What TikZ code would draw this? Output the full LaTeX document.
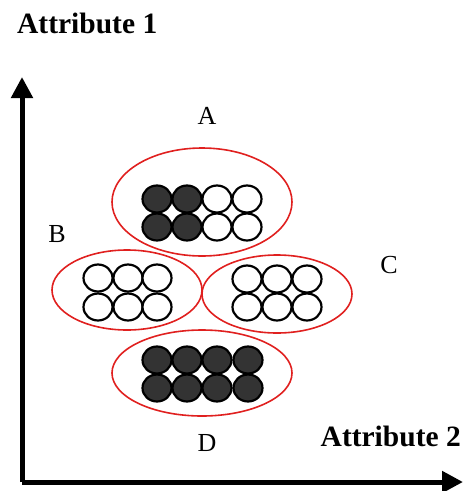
\documentclass[tikz,border=0pt]{standalone}
\usepackage{fontspec}
\setmainfont{Liberation Serif}
\usetikzlibrary{arrows.meta}
\definecolor{dot}{HTML}{333333}
\definecolor{ring}{HTML}{E0201F}
\begin{document}
\begin{tikzpicture}[x=1pt,y=-1pt,
  axis/.style={line width=5pt,-{Triangle[length=21pt,width=21pt]}},
  group/.style={draw=ring,line width=1.6pt,ellipse},
  dotw/.style={draw=black,line width=2.2pt,fill=white},
  dotb/.style={draw=black,line width=2.2pt,fill=dot},
  axlabel/.style={font=\fontsize{29.5}{30}\selectfont\bfseries,inner sep=0pt},
  letter/.style={font=\fontsize{26}{28}\selectfont,inner sep=0pt}]
\useasboundingbox (0,0) rectangle (463,491);
% axes
\coordinate (origin) at (22,482);
\coordinate (ytip) at (22,77);
\coordinate (xtip) at (463,482);
\draw[axis] (origin) -- (ytip);
\draw[axis] (origin) -- (xtip);
% axis labels
\node[axlabel,anchor=base west] (at1) at (17,33) {Attribute 1};
\node[axlabel,anchor=base east] (at2) at (461,446) {Attribute 2};
% cluster letters
\node[letter] (lA) at (207,116) {A};
\node[letter] (lB) at (57,234) {B};
\node[letter] (lC) at (389,265) {C};
\node[letter] (lD) at (207,443) {D};
% ellipses
\draw[draw=ring,line width=1.6pt] (202,202) ellipse [x radius=90,y radius=54];
\draw[draw=ring,line width=1.6pt] (127,290) ellipse [x radius=75,y radius=40];
\draw[draw=ring,line width=1.6pt] (277,294) ellipse [x radius=75,y radius=39];
\draw[draw=ring,line width=1.6pt] (202,373) ellipse [x radius=90,y radius=43];
% A dots
\foreach \y in {199,227}{
  \foreach \x in {157,187}{\draw[dotb] (\x,\y) ellipse [x radius=14.5,y radius=13.5];}
  \foreach \x in {217,247}{\draw[dotw] (\x,\y) ellipse [x radius=14.5,y radius=13.5];}
}
% B dots
\foreach \y in {278,307}{
  \foreach \x in {98,128,157}{\draw[dotw] (\x,\y) ellipse [x radius=14.5,y radius=13.5];}
}
% C dots
\foreach \y in {279,307}{
  \foreach \x in {247,277,307}{\draw[dotw] (\x,\y) ellipse [x radius=14.5,y radius=13.5];}
}
% D dots
\foreach \y in {360,388}{
  \foreach \x in {157,187,217,248}{\draw[dotb] (\x,\y) ellipse [x radius=14.5,y radius=13.5];}
}
\end{tikzpicture}
\end{document}
